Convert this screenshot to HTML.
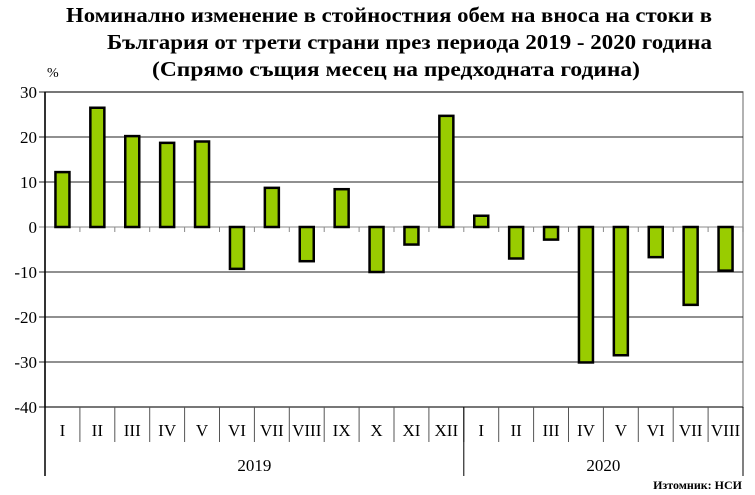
<!DOCTYPE html>
<html><head><meta charset="utf-8"><style>
body{margin:0;background:#fff;}
svg{display:block;font-family:"Liberation Serif",serif;}
</style></head><body>
<svg id="chart" width="755" height="495" viewBox="0 0 755 495">
<g font-weight="bold" font-size="21" fill="#000">
<text x="66" y="22" textLength="646" lengthAdjust="spacingAndGlyphs">Номинално изменение в стойностния обем  на вноса на стоки в</text>
<text x="107" y="49" textLength="605" lengthAdjust="spacingAndGlyphs">България от трети страни през периода 2019 - 2020 година</text>
<text x="152" y="76" textLength="488" lengthAdjust="spacingAndGlyphs">(Спрямо същия месец на предходната година)</text>
</g>
<text x="47" y="77" font-size="14">%</text>
<g id="grid"></g>
<g id="bars"></g>
<g id="axes"></g>
<text x="742" y="489" font-size="12" font-weight="bold" text-anchor="end">Изтомник: НСИ</text>
</svg>
<script>
const categories=["I","II","III","IV","V","VI","VII","VIII","IX","X","XI","XII","I","II","III","IV","V","VI","VII","VIII"];
const values=[12.2,26.5,20.2,18.7,19.0,-9.3,8.7,-7.6,8.4,-10.0,-3.9,24.7,2.5,-7.0,-2.8,-30.1,-28.5,-6.7,-17.3,-9.7];
const years=["2019","2020"];
const yearCounts=[12,8];
const yTicks=[30,20,10,0,-10,-20,-30,-40];
const NS="http://www.w3.org/2000/svg";
const L=45,R=743,T=92,B=407,yMin=-40,yMax=30;
const cw=(R-L)/categories.length;
const y=v=>T+(yMax-v)/(yMax-yMin)*(B-T);
const x=i=>L+i*cw;
function mk(tag,a,parent){const e=document.createElementNS(NS,tag);for(const k in a)e.setAttribute(k,a[k]);parent.appendChild(e);return e;}
const grid=document.getElementById('grid'),bars=document.getElementById('bars'),axes=document.getElementById('axes');
mk('rect',{x:L,y:T,width:R-L,height:B-T,fill:'none',stroke:'#999','stroke-width':1.5},grid);
yTicks.forEach(t=>{
 const g=mk('line',{x1:L-6,x2:R,y1:y(t),y2:y(t),stroke:t===0?'#888':'#222','stroke-width':1},grid);
 
 
 const lb=mk('text',{x:L-8,y:y(t)+6,'font-size':17,'text-anchor':'end'},axes);
 lb.textContent=t;
 
 
});
values.forEach((v,i)=>{
 const cx=x(i)+cw/2,bw=14;
 const r=mk('rect',{x:cx-bw/2,y:Math.min(y(v),y(0)),width:bw,height:Math.abs(y(v)-y(0)),fill:'#99cc00',stroke:'#000','stroke-width':2.5},bars);
 
 
});
for(let i=0;i<=categories.length;i++){
 mk('line',{x1:x(i),x2:x(i),y1:y(0),y2:y(0)+5,stroke:'#888'},axes);
 mk('line',{x1:x(i),x2:x(i),y1:B,y2:442,stroke:'#555'},axes);
}
categories.forEach((c,i)=>{
 const t=mk('text',{x:x(i)+cw/2,y:436,'font-size':17,'text-anchor':'middle'},axes);
 t.textContent=c;
 
 
});
let start=0;
mk('line',{x1:L,x2:L,y1:T,y2:476,stroke:'#000','stroke-width':1.5},axes);
years.forEach((yr,k)=>{
 const end=start+yearCounts[k];
 mk('line',{x1:x(end),x2:x(end),y1:B,y2:476,stroke:'#000'},axes);
 const t=mk('text',{x:(x(start)+x(end))/2,y:471,'font-size':17,'text-anchor':'middle'},axes);
 t.textContent=yr;
 
 
 start=end;
});
</script>
</body></html>
